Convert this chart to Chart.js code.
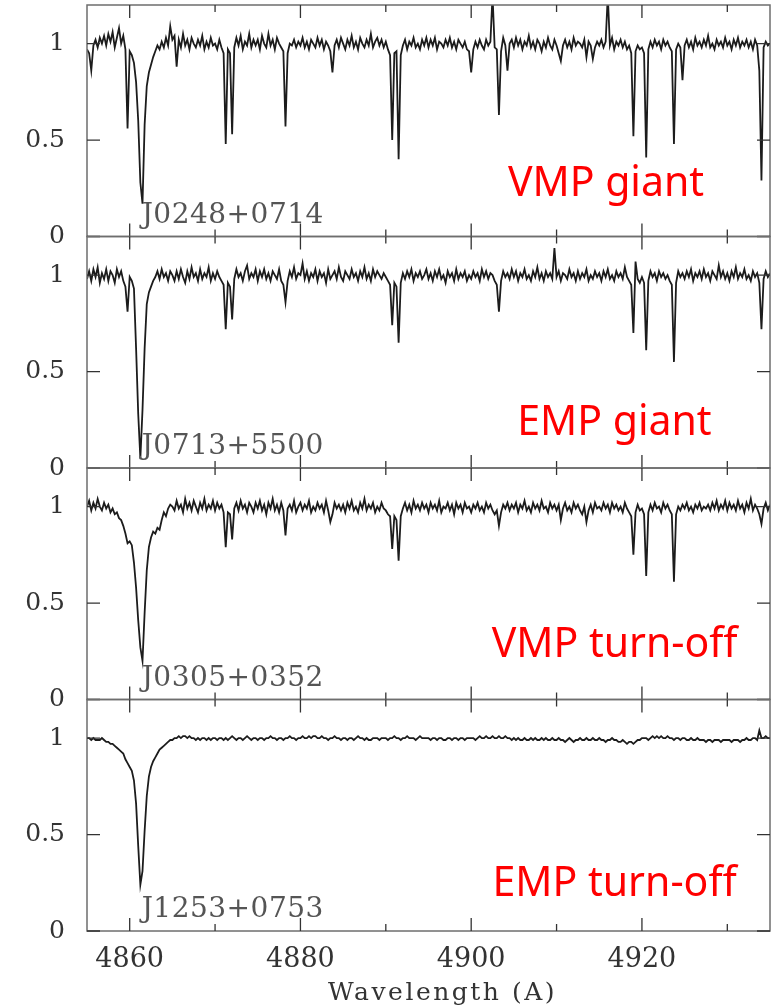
<!DOCTYPE html>
<html>
<head>
<meta charset="utf-8">
<script src="https://cdn.jsdelivr.net/npm/chart.js@4.4.0/dist/chart.umd.min.js"></script>
<style>
  html, body { margin: 0; padding: 0; background: #fff; }
  #wrap { width: 782px; height: 1008px; }
</style>
</head>
<body>
<div id="wrap"><canvas id="spec" width="782" height="1008"></canvas></div>
<script>
// ---- axis setup ----
const WAVE_MIN  = 4855;
const WAVE_MAX  = 4935;
const WAVE_STEP = 0.25;
const X_TICKS   = [4860, 4880, 4900, 4920];
const X_MINOR   = [4870, 4890, 4910, 4930];
const Y_TICKS   = [0, 0.5, 1];

const STARS = ["J0248+0714", "J0713+5500", "J0305+0352", "J1253+0753"];
const TYPES = ["VMP giant", "EMP giant", "VMP turn-off", "EMP turn-off"];

// ---- normalised flux, one value every 0.25 A from 4855 (rows of 5 A) ----
const FLUX_VMP_GIANT = [
  .97, .95, .86, .99, 1.02, .98, 1.03, 1.00, 1.04, .99, 1.05, 1.01, 1.06, .98, 1.03, 1.08, 1.00, 1.04, .97, .56,   // 4855
  .96, .94, .90, .80, .60, .28, .17, .58, .78, .85, .89, .93, .96, .99, .97, 1.01, .98, 1.03, .99, 1.09,           // 4860
  1.02, 1.04, .88, 1.02, .98, 1.05, .99, 1.02, .97, 1.03, 1.00, .98, 1.02, .99, 1.04, .97, 1.01, .98, 1.03, .99,   // 4865
  1.00, .97, 1.02, .98, .95, .48, .97, .95, .53, .98, 1.03, .99, 1.04, .97, 1.01, .99, 1.05, .98, 1.02, .99,       // 4870
  1.02, .97, 1.04, 1.00, .98, 1.05, .99, 1.02, .97, 1.03, 1.00, .98, .96, .57, .95, 1.00, .99, 1.02, .98, 1.01,    // 4875
  .99, 1.03, .98, 1.01, .97, 1.02, 1.00, .98, 1.03, .99, 1.02, .97, 1.01, .99, .96, .85, .99, 1.02, .98, 1.03,     // 4880
  1.00, .97, 1.02, .99, 1.04, .98, 1.01, .97, 1.03, 1.00, .98, 1.02, .99, 1.05, .98, 1.01, 1.03, .99, 1.02, .98,   // 4885
  1.01, .97, .94, .50, .95, .96, .40, .94, .99, 1.02, .97, 1.01, .99, 1.03, .98, 1.00, .97, 1.02, .99, 1.03,       // 4890
  .98, 1.02, .99, 1.03, .97, 1.01, 1.00, .98, 1.02, .99, 1.03, .98, 1.01, .97, 1.02, 1.00, .98, 1.01, .97, .96,    // 4895
  .85, .97, 1.01, .98, 1.02, .99, .97, 1.02, .99, 1.01, 1.25, .98, .97, .63, .96, 1.03, .99, .86, 1.00, 1.02,      // 4900
  .98, 1.03, .99, 1.02, .97, 1.01, .99, 1.04, .98, 1.01, .97, 1.02, 1.00, .96, 1.01, .98, 1.03, .99, .97, 1.02,    // 4905
  .99, .95, .91, .99, 1.02, .98, 1.01, .97, 1.03, .99, 1.01, 1.00, .98, 1.02, .93, 1.01, .99, .92, .98, 1.01,      // 4910
  .99, 1.02, .98, 1.01, 1.25, .99, 1.03, .97, 1.01, .99, 1.02, .98, 1.01, .97, .99, .95, .52, .96, .99, .97,       // 4915
  .98, .95, .41, .97, 1.01, .98, 1.02, .99, 1.01, .97, 1.02, .99, 1.01, .98, .96, .48, .97, 1.00, .98, .81,        // 4920
  .99, 1.02, .98, 1.01, .97, 1.03, .99, 1.01, .98, 1.02, .99, 1.04, .98, 1.00, .97, 1.02, .99, 1.01, .98, 1.03,    // 4925
  .99, 1.01, .97, 1.02, .99, 1.03, .98, 1.01, .99, 1.02, .98, 1.01, .97, 1.02, .99, .86, .29, .98, 1.01, .99,      // 4930
  1.00
];

const FLUX_EMP_GIANT = [
  .98, 1.02, .97, 1.03, .99, 1.04, .96, 1.01, .98, 1.03, .97, 1.02, 1.00, .96, 1.03, .99, 1.02, .97, .94, .81,     // 4855
  .99, .97, .93, .62, .28, .05, .30, .62, .85, .91, .94, .97, .99, 1.02, .98, 1.03, .99, 1.01, .97, 1.02,          // 4860
  1.00, .97, 1.02, .98, 1.03, .99, .96, 1.02, .98, 1.04, .99, 1.01, .97, 1.03, .98, 1.01, .99, 1.04, .97, 1.01,    // 4865
  .98, 1.02, .99, .97, .95, .72, .96, .94, .77, .98, 1.03, .99, 1.01, .97, 1.02, 1.05, .98, 1.01, .99, 1.03,       // 4870
  .97, 1.02, .99, 1.03, .98, 1.01, .97, 1.02, 1.00, .98, 1.03, .97, .95, .86, .97, 1.02, .99, 1.04, .98, 1.01,     // 4875
  1.00, 1.06, .98, 1.02, .97, 1.01, .99, 1.03, .97, 1.02, .99, 1.01, .96, 1.03, .98, 1.00, 1.02, .98, 1.04, .99,   // 4880
  .97, 1.02, 1.00, .98, 1.03, .99, 1.01, .97, 1.02, .99, 1.04, .98, 1.01, .97, 1.03, .99, 1.02, 1.00, .98, 1.01,   // 4885
  .99, .97, .95, .74, .96, .94, .65, .96, 1.01, .98, 1.02, .99, 1.03, .97, 1.01, .99, 1.02, .98, 1.00, 1.03,       // 4890
  .98, 1.01, .97, 1.02, .99, 1.03, .98, 1.00, .96, 1.02, .99, 1.01, .97, 1.03, .98, 1.01, .99, 1.02, .97, 1.00,    // 4895
  .98, 1.02, .99, 1.01, .97, 1.03, .99, 1.02, .98, 1.01, 1.00, .97, .95, .81, .97, 1.02, .99, 1.01, .98, 1.03,     // 4900
  .99, 1.02, .97, 1.01, .99, 1.03, .98, 1.00, .97, 1.02, .99, 1.04, .98, 1.01, .97, 1.02, .99, 1.01, .98, 1.14,    // 4905
  .99, 1.02, .97, 1.01, 1.00, .98, 1.03, .99, 1.01, .97, 1.02, .98, 1.01, .99, 1.03, .97, 1.00, .98, 1.02, .99,    // 4910
  1.01, .97, 1.02, .99, 1.03, .98, 1.00, .97, 1.02, .99, 1.01, .98, 1.04, .99, .97, .95, .70, 1.07, .98, .96,      // 4915
  .99, .96, .61, .97, 1.02, .99, 1.01, .97, 1.02, .99, 1.01, .98, 1.00, .97, .95, .55, .96, 1.02, .99, 1.01,       // 4920
  .98, 1.02, .99, 1.03, .97, 1.01, .99, 1.02, .98, 1.03, .99, 1.01, .97, 1.02, 1.00, .98, 1.05, .99, 1.02, .98,    // 4925
  1.01, .97, 1.02, .99, 1.04, .98, 1.01, .99, 1.03, .98, 1.00, .97, 1.02, .99, 1.01, .96, .72, .98, 1.02, .99,     // 4930
  1.01
];

const FLUX_VMP_TURNOFF = [
  1.00, 1.03, .98, 1.02, .99, 1.04, 1.00, .98, 1.02, .99, 1.01, .97, .99, .96, .97, .94, .93, .90, .86, .81,       // 4855
  .82, .80, .71, .58, .41, .27, .20, .45, .67, .79, .84, .87, .86, .89, .88, .93, .97, .95, .99, 1.01,             // 4860
  1.00, .98, 1.03, .99, 1.01, .97, 1.04, .99, 1.02, .98, 1.03, 1.00, .97, 1.02, .99, 1.04, .98, 1.01, .99, 1.03,   // 4865
  .98, 1.02, .99, 1.01, .97, .79, .97, .96, .83, .99, 1.02, .98, 1.03, .99, 1.01, .97, 1.02, 1.00, .97, 1.02,      // 4870
  .99, 1.03, .98, 1.01, .96, 1.02, .99, 1.04, .98, 1.01, .97, 1.02, .98, .85, .99, 1.01, .98, 1.03, .97, 1.00,     // 4875
  1.02, .98, 1.01, .99, 1.03, .97, 1.00, .98, 1.02, .99, 1.01, .97, 1.03, .98, .92, .96, 1.02, .99, 1.01, .98,     // 4880
  1.01, .97, 1.02, .99, 1.03, .98, 1.00, .97, 1.02, .99, 1.04, .98, 1.01, .99, 1.02, .97, 1.00, .98, 1.02, .99,    // 4885
  .98, .96, .95, .78, .95, .93, .72, .95, .99, 1.02, .98, 1.01, .97, 1.03, .99, 1.01, .98, 1.02, .99, 1.01,        // 4890
  .97, 1.02, .99, 1.01, .98, 1.03, .97, 1.00, .99, 1.02, .98, 1.01, .96, 1.02, .99, 1.01, .97, 1.02, .99, 1.00,    // 4895
  .97, 1.01, .99, 1.02, .98, 1.00, .97, 1.02, .99, 1.01, .98, .96, .98, .90, .97, 1.01, .99, 1.02, .98, 1.01,      // 4900
  .99, 1.02, .97, 1.01, .99, 1.03, .98, 1.00, .97, 1.02, .99, 1.01, .98, 1.03, .99, 1.00, .97, 1.02, .99, 1.01,    // 4905
  .98, 1.01, .93, .99, 1.02, .98, 1.00, .97, 1.02, .99, 1.01, .98, .96, 1.00, .92, .98, 1.01, .97, 1.02, .99,      // 4910
  1.00, .98, 1.02, .99, 1.01, .97, 1.02, .99, 1.01, .98, 1.00, .97, 1.02, .99, .97, .95, .75, .97, 1.01, .98,      // 4915
  .99, .96, .64, .97, 1.01, .98, 1.02, .99, 1.00, .97, 1.02, .99, 1.01, .98, .96, .61, .96, 1.00, .98, 1.01,       // 4920
  .99, 1.02, .98, 1.00, .97, 1.01, .99, 1.02, .98, 1.00, .99, 1.01, .98, 1.02, .99, 1.03, .98, 1.01, .99, 1.03,    // 4925
  .98, 1.02, .99, 1.01, .98, 1.03, .99, 1.01, .97, 1.02, .99, 1.04, .98, 1.01, .99, .96, .91, .99, 1.02, .98,      // 4930
  1.01
];

const FLUX_EMP_TURNOFF = [
  1.00, 1.00, .99, 1.00, .99, .99, .99, 1.00, .99, .98, .98, .97, .97, .96, .95, .94, .93, .92, .89, .87,         // 4855
  .85, .83, .78, .66, .44, .24, .31, .52, .70, .80, .85, .88, .90, .92, .94, .95, .96, .97, .98, .99,              // 4860
  .99, 1.00, 1.00, 1.01, 1.00, 1.01, 1.01, 1.00, 1.01, 1.00, 1.00, .99, 1.00, .99, 1.00, 1.00, .99, 1.00, .99, 1.00, // 4865
  1.00, .99, 1.00, 1.00, .99, 1.00, .99, 1.00, 1.01, 1.00, .99, 1.00, 1.00, .99, 1.00, 1.01, 1.00, .99, 1.00, 1.00, // 4870
  .99, 1.00, 1.00, .99, 1.00, 1.00, 1.01, 1.00, 1.00, .99, 1.00, 1.00, .99, 1.00, 1.00, 1.01, 1.00, 1.00, .99, 1.00, // 4875
  1.00, 1.01, 1.00, 1.00, 1.01, 1.00, 1.01, 1.01, 1.00, 1.00, 1.01, 1.00, 1.00, .99, 1.00, 1.00, 1.01, 1.00, 1.00, .99, // 4880
  1.00, 1.00, .99, 1.00, 1.00, .99, 1.00, 1.01, 1.00, 1.00, .99, 1.00, .99, .99, 1.00, 1.00, 1.00, .99, 1.00, 1.00, // 4885
  1.00, .99, 1.00, 1.00, 1.01, 1.00, 1.00, .99, 1.00, 1.00, 1.01, 1.00, 1.00, 1.00, .99, 1.00, 1.01, 1.00, 1.00, 1.00, // 4890
  1.00, .99, 1.00, 1.00, .99, 1.00, 1.00, .99, .99, 1.00, 1.00, .99, 1.00, 1.00, .99, 1.00, 1.00, .99, 1.00, 1.00, // 4895
  1.00, 1.00, .99, 1.00, 1.01, 1.00, 1.00, 1.01, 1.00, 1.00, 1.01, 1.00, 1.00, 1.01, 1.00, 1.00, 1.01, 1.00, 1.00, .99, // 4900
  1.00, .99, 1.00, .99, .99, 1.00, .99, .99, 1.00, .99, 1.00, .99, .99, 1.00, .99, 1.00, .99, .99, 1.00, .99,      // 4905
  .99, 1.00, .99, .99, .98, .99, 1.00, .99, .98, .99, .99, 1.00, .99, .99, 1.00, .99, .99, 1.00, .99, .99,         // 4910
  1.00, .99, .99, .98, .99, .99, 1.00, .99, .99, .98, .98, .99, .98, .97, .98, .98, .97, .98, .99, .99,            // 4915
  1.00, 1.00, 1.00, .99, 1.00, 1.01, 1.00, 1.01, 1.00, 1.01, 1.00, 1.00, 1.01, 1.00, 1.00, .99, 1.00, 1.00, .99, 1.00, // 4920
  1.00, .99, .99, 1.00, .99, .99, 1.00, .99, .99, .99, .98, .99, .99, .98, .99, .99, .99, .98, .99, .99,           // 4925
  .99, .99, .98, .99, .99, .99, .98, .99, .99, 1.00, .99, .99, 1.00, 1.00, .99, 1.04, 1.00, 1.00, 1.01, 1.00,      // 4930
  1.00
];

const SPECTRA = [FLUX_VMP_GIANT, FLUX_EMP_GIANT, FLUX_VMP_TURNOFF, FLUX_EMP_TURNOFF];
const PANEL_IDS = ["p0", "p1", "p2", "p3"];   // top to bottom

// ---- annotation placement (data coords of each panel) ----
const STAR_LABEL_AT = { x: 4861.4, y: 0.07 };
const TYPE_LABEL_X  = [4904.3, 4905.4, 4902.4, 4902.5];
const TYPE_LABEL_Y  = [0.21, 0.17, 0.22, 0.18];

const SERIF = "'DejaVu Serif', serif";

// ==============================
// DATASETS
// ==============================
const datasets = SPECTRA.map((flux, p) => ({
  label: STARS[p],
  data: flux.map((f, i) => ({ x: WAVE_MIN + i * WAVE_STEP, y: f })),
  yAxisID: PANEL_IDS[p],
  borderColor: "#1c1c1c",
  borderWidth: 1.8,
  pointRadius: 0,
  tension: 0,
  fill: false
}));

// ==============================
// SCALES
// ==============================
function noPadding(s) {
  s.paddingTop = 0; s.paddingBottom = 0;
  s.paddingLeft = 0; s.paddingRight = 0;
}

const scales = {
  x: {
    type: "linear",
    position: "bottom",
    min: WAVE_MIN,
    max: WAVE_MAX,
    afterBuildTicks: s => { s.ticks = X_TICKS.map(v => ({ value: v })); },
    afterFit: s => { s.height = 77; noPadding(s); },
    grid: { display: false, drawTicks: false },
    border: { display: false },
    ticks: { font: { family: SERIF, size: 27 }, color: "#333", padding: 13, maxRotation: 0, callback: v => String(v) }
  }
};

// stacked layout places later-defined axes on top, so add bottom panel first
[...PANEL_IDS].reverse().forEach(id => {
  scales[id] = {
    type: "linear",
    position: "left",
    stack: "panels",
    stackWeight: 1,
    min: 0,
    max: 1.2,
    afterBuildTicks: s => { s.ticks = Y_TICKS.map(v => ({ value: v })); },
    afterFit: s => { s.width = 87; noPadding(s); },
    grid: { display: false, drawTicks: false },
    border: { display: false },
    ticks: { font: { family: SERIF, size: 25 }, color: "#333", padding: 22, callback: v => String(v) }
  };
});

// ==============================
// FRAMES, INWARD TICKS, LABELS
// ==============================
const framePlugin = {
  id: "frames",
  afterDraw(chart) {
    const ctx = chart.ctx;
    const xs  = chart.scales.x;
    const L = xs.left, R = xs.right;

    ctx.save();
    PANEL_IDS.forEach((id, p) => {
      const ys = chart.scales[id];
      const T = ys.top, B = ys.bottom;

      // frame
      ctx.strokeStyle = "#6e6e6e";
      ctx.lineWidth = 1.5;
      ctx.strokeRect(L, T, R - L, B - T);

      // x ticks, top and bottom, pointing in
      ctx.strokeStyle = "#333";
      ctx.lineWidth = 1.3;
      ctx.beginPath();
      X_TICKS.forEach(v => {
        const px = xs.getPixelForValue(v);
        ctx.moveTo(px, T); ctx.lineTo(px, T + 13);
        ctx.moveTo(px, B); ctx.lineTo(px, B - 13);
      });
      X_MINOR.forEach(v => {
        const px = xs.getPixelForValue(v);
        ctx.moveTo(px, T); ctx.lineTo(px, T + 7);
        ctx.moveTo(px, B); ctx.lineTo(px, B - 7);
      });
      // y ticks, left and right
      Y_TICKS.forEach(v => {
        const py = ys.getPixelForValue(v);
        ctx.moveTo(L, py); ctx.lineTo(L + 13, py);
        ctx.moveTo(R, py); ctx.lineTo(R - 13, py);
      });
      ctx.stroke();

      // star name
      ctx.fillStyle = "#555";
      ctx.font = "28px " + SERIF;
      ctx.letterSpacing = "0.5px";
      ctx.textAlign = "left";
      ctx.textBaseline = "alphabetic";
      ctx.fillText(STARS[p], xs.getPixelForValue(STAR_LABEL_AT.x), ys.getPixelForValue(STAR_LABEL_AT.y));

      // red class label
      ctx.letterSpacing = "0px";
      ctx.fillStyle = "#ff0000";
      ctx.font = "41px 'Noto Sans', sans-serif";
      ctx.fillText(TYPES[p], xs.getPixelForValue(TYPE_LABEL_X[p]), ys.getPixelForValue(TYPE_LABEL_Y[p]));
    });

    // axis title
    ctx.fillStyle = "#333";
    ctx.font = "25px " + SERIF;
    ctx.letterSpacing = "2.5px";
    ctx.textAlign = "center";
    ctx.fillText("Wavelength (A)", (L + R) / 2 + 14, 1000);
    ctx.restore();
  }
};

// ==============================
// CHART
// ==============================
new Chart(document.getElementById("spec"), {
  type: "line",
  data: { datasets },
  options: {
    responsive: false,
    devicePixelRatio: 1,
    animation: false,
    parsing: false,
    layout: { padding: { left: 0, top: 5, right: 12, bottom: 0 } },
    plugins: { legend: { display: false }, tooltip: { enabled: false } },
    scales
  },
  plugins: [framePlugin]
});
</script>
</body>
</html>
